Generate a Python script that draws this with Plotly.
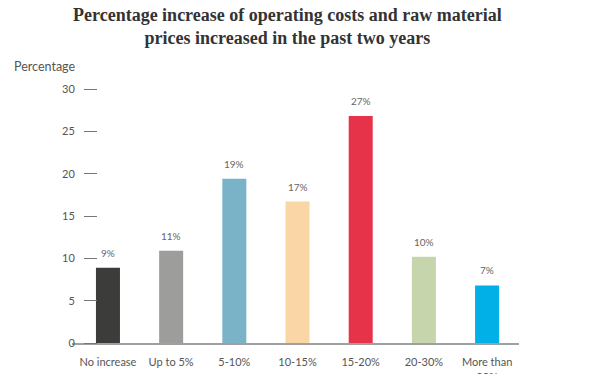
import plotly.graph_objects as go

categories = ["No increase", "Up to 5%", "5-10%", "10-15%", "15-20%", "20-30%", "More than<br>30%"]
values = [8.9, 10.9, 19.4, 16.7, 26.8, 10.2, 6.8]
labels = ["9%", "11%", "19%", "17%", "27%", "10%", "7%"]
colors = ["#3c3c3b", "#9d9d9c", "#7ab3c8", "#fad5a5", "#e6334a", "#c6d5ab", "#00b0e6"]
y_ticks = [0, 5, 10, 15, 20, 25, 30]

PLOT_W = 447
PLOT_H = 254

fig = go.Figure()
fig.add_trace(go.Bar(
    x=list(range(len(categories))), y=values,
    marker=dict(color=colors, line=dict(width=0)),
    width=0.38, hoverinfo="skip",
))

for i, (v, t) in enumerate(zip(values, labels)):
    fig.add_annotation(x=i, y=v, text=t, showarrow=False, yanchor="bottom",
                       yshift=7, font=dict(family="Lato, sans-serif", size=10, color="#666666"))

fig.update_layout(
    width=609, height=374,
    margin=dict(l=72, r=90, t=89, b=31, autoexpand=False),
    paper_bgcolor="white", plot_bgcolor="white",
    showlegend=False,
    xaxis=dict(
        range=[-0.569, 6.505], automargin=False,
        tickmode="array", tickvals=list(range(len(categories))), ticktext=categories,
        showline=True, linecolor="#a0a0a0", linewidth=2,
        showgrid=False, zeroline=False, ticks="",
        ticklabelstandoff=8,
        tickfont=dict(family="Lato, sans-serif", size=11, color="#555555"),
    ),
    yaxis=dict(
        range=[0, 30], anchor="free", position=25/PLOT_W, automargin=False,
        tickmode="array", tickvals=y_ticks,
        ticks="outside", ticklen=13, tickcolor="#777777", tickwidth=1,
        ticklabelstandoff=7,
        showline=False, showgrid=False, zeroline=False,
        tickfont=dict(family="Lato, sans-serif", size=11, color="#555555"),
    ),
)
fig.add_annotation(
    text="<b>Percentage increase of operating costs and raw material<br>prices increased in the past two years</b>",
    xref="paper", yref="paper", x=(287-72)/PLOT_W, y=1 + (89-3)/PLOT_H,
    xanchor="center", yanchor="top", showarrow=False, align="center",
    font=dict(family="Liberation Serif, serif", size=18, color="#333333"),
)
fig.add_annotation(text="Percentage", xref="paper", yref="paper", x=-60/PLOT_W,
                   y=1 + (89-67)/PLOT_H, xanchor="left", yanchor="middle", showarrow=False,
                   font=dict(family="Lato, sans-serif", size=12.5, color="#555555"))

fig.write_html("out.html", config={"displayModeBar": False},
               post_script="document.body.style.margin='0';document.body.style.overflow='hidden';")
